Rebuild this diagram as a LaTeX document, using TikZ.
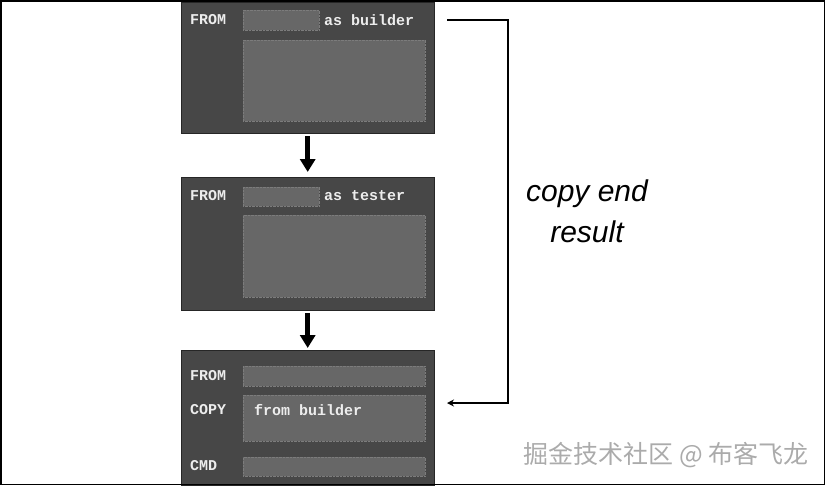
\documentclass[tikz,border=0pt]{standalone}
\usepackage{fontspec}
\usepackage{tikz}
\usetikzlibrary{arrows.meta,positioning,calc}
\newfontfamily\codefont{Liberation Mono}
\newfontfamily\notefont{Liberation Sans}
\newfontfamily\cjk{Noto Sans CJK SC}
\definecolor{stagegray}{HTML}{474747}
\definecolor{slotgray}{HTML}{676767}
\definecolor{slotedge}{HTML}{7C7C7C}
\definecolor{kwwhite}{HTML}{EDEDED}
\definecolor{markgray}{HTML}{ABABAB}

\begin{document}
\begin{tikzpicture}[x=1pt,y=-1pt,
  stage/.style={draw=black!85,fill=stagegray,minimum width=253pt,inner sep=0pt,anchor=north west},
  slot/.style={draw=slotedge,densely dotted,fill=slotgray,inner sep=0pt,anchor=north west},
  kw/.style={font=\fontsize{15}{17}\selectfont\codefont\bfseries,text=kwwhite,anchor=west,inner sep=0pt},
  flow/.style={line width=5pt,-{Triangle[width=15pt,length=13pt]}},
  result/.style={line width=1.8pt,-{Stealth[length=7pt,width=7pt]}}]
  \useasboundingbox (0,0) rectangle (825,485);
  % builder stage
  \node[stage,minimum height=131pt] (builder) at (181,2) {};
  \node[slot,minimum width=76pt,minimum height=20pt] (bname) at (243,10) {};
  \node[slot,minimum width=182pt,minimum height=81pt] (bbody) at (243,40) {};
  \node[kw] (bfrom) at (190,20) {FROM};
  \node[kw] (bas) at (324,20) {as builder};
  % tester stage
  \node[stage,minimum height=133pt] (tester) at (181,177) {};
  \node[slot,minimum width=76pt,minimum height=19pt] (tname) at (243,187) {};
  \node[slot,minimum width=182pt,minimum height=82pt] (tbody) at (243,215) {};
  \node[kw] (tfrom) at (190,196) {FROM};
  \node[kw] (tas) at (324,196) {as tester};
  % final stage
  \node[stage,minimum height=135pt] (final) at (181,350) {};
  \node[slot,minimum width=182pt,minimum height=20pt] (ffrom) at (243,366) {};
  \node[slot,minimum width=182pt,minimum height=46pt] (fcopy) at (243,395) {};
  \node[slot,minimum width=182pt,minimum height=19pt] (fcmd) at (243,457) {};
  \node[kw] (ffromkw) at (190,376) {FROM};
  \node[kw] (fcopykw) at (190,410) {COPY};
  \node[kw] (fcopytxt) at (254,410) {from builder};
  \node[kw] (fcmdkw) at (190,466) {CMD};
  % stage arrows
  \draw[flow,shorten <=3pt,shorten >=5pt] (builder.south) -- (tester.north);
  \draw[flow,shorten <=3pt,shorten >=2pt] (tester.south) -- (final.north);
  % copy end result
  \coordinate (resout) at (447,20);
  \coordinate (resin) at (447,403);
  \draw[result] (resout) -- (508,20) |- (resin);
  \node[align=center,font=\fontsize{30}{41}\selectfont\notefont\itshape] (note) at (587,211)
    {copy end\\result};
  \node[text=markgray,font=\fontsize{25}{27}\selectfont\cjk,anchor=east,inner sep=0pt] (mark) at (809,455)
    {掘金技术社区 @ 布客飞龙};
  % frame
  \draw[line width=1.5pt] (0.75,0.75) rectangle (824.25,484.25);
\end{tikzpicture}
\end{document}
